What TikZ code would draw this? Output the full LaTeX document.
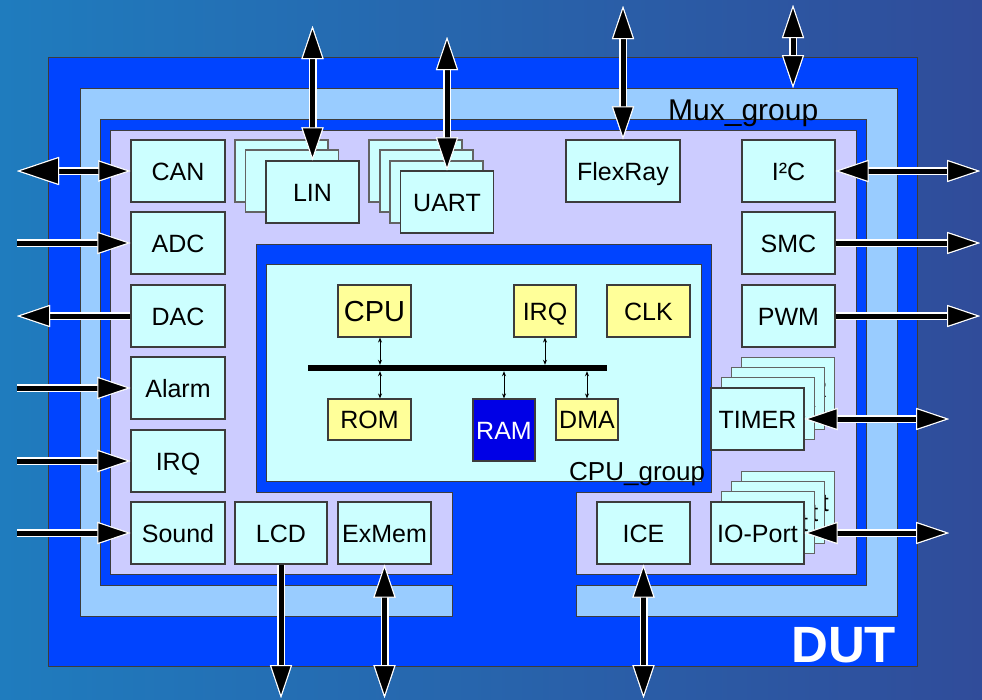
\documentclass[tikz,border=0pt]{standalone}
\usepackage{fontspec}
\setmainfont{Liberation Sans}
\usetikzlibrary{arrows.meta}
\definecolor{dutblue}{RGB}{0,68,255}
\definecolor{lightb}{RGB}{153,204,255}
\definecolor{lav}{RGB}{204,204,255}
\definecolor{cyanb}{RGB}{204,255,255}
\definecolor{yel}{RGB}{255,255,153}
\definecolor{ramb}{RGB}{0,0,230}
\definecolor{bordc}{RGB}{60,60,60}
\definecolor{bgl}{RGB}{31,124,190}
\definecolor{bgr}{RGB}{48,76,154}
\begin{document}
\begin{tikzpicture}[x=1pt,y=-1pt,
  font=\fontsize{25}{30}\selectfont,
  bx/.style={draw=bordc, line width=1.1pt, fill=cyanb, inner sep=0pt,
    minimum width=93pt, minimum height=62pt, text height=18pt, text depth=0pt},
  stk/.style={bx, draw=bordc!80},
  ybx/.style={draw=bordc, line width=1.1pt, fill=yel, inner sep=0pt,
    text height=18pt, text depth=0pt},
  conn/.style={line width=5pt, draw=black, preaction={draw=white, line width=8pt}},
  one/.style={conn, -{Triangle[length=33pt,width=22pt,fill=black,color=white,line width=1pt]}},
  two/.style={conn, {Triangle[length=33pt,width=22pt,fill=black,color=white,line width=1pt]}-{Triangle[length=33pt,width=22pt,fill=black,color=white,line width=1pt]}},
  twobig/.style={conn, {Triangle[length=42pt,width=28pt,fill=black,color=white,line width=1pt]}-{Triangle[length=32pt,width=21pt,fill=black,color=white,line width=1pt]}},
  small/.style={line width=1pt, black, {Stealth[length=5pt,width=4pt]}-{Stealth[length=5pt,width=4pt]}},
  grp/.style={draw=bordc, line width=1pt}
]
\useasboundingbox (0,0) rectangle (982,699);
% background
\shade[left color=bgl, right color=bgr] (0,0) rectangle (982,699);
% DUT
\draw[grp, fill=dutblue] (48,57) rectangle (917,666);
% Mux group (light blue frame with gap)
\draw[grp, fill=lightb] (452,616) -- (80,616) -- (80,88) -- (897,88) -- (897,616)
  -- (576,616) -- (576,585) -- (866,585) -- (866,119) -- (100,119) -- (100,585)
  -- (452,585) -- cycle;
% lavender area
\draw[grp, fill=lav] (452,574) -- (110,574) -- (110,130) -- (856,130) -- (856,574)
  -- (576,574) -- (576,492) -- (711,492) -- (711,244) -- (256,244) -- (256,492)
  -- (452,492) -- cycle;
% CPU group inner
\draw[grp, fill=cyanb] (266,264) rectangle (701,481);
\node[anchor=base west, inner sep=0pt, font=\fontsize{30}{36}\selectfont] (mux) at (668,120) {Mux\_group};
\node[anchor=base west, inner sep=0pt, font=\fontsize{26}{31}\selectfont] (cpug) at (569,480) {CPU\_group};
\node[anchor=base west, inner sep=0pt, text=white, font=\fontsize{51}{60}\selectfont\bfseries] (dut) at (791,662) {DUT};

% left column
\node[bx, minimum width=94pt] (can) at (178,171) {CAN};
\node[bx, minimum width=94pt] (adc) at (178,243) {ADC};
\node[bx, minimum width=94pt] (dac) at (178,316) {DAC};
\node[bx, minimum width=94pt] (alarm) at (178,388) {Alarm};
\node[bx, minimum width=94pt] (irq) at (178,461) {IRQ};
\node[bx, minimum width=94pt] (sound) at (178,533) {Sound};
\node[bx, minimum width=92pt] (lcd) at (281,533) {LCD};
\node[bx] (exmem) at (384.5,533) {ExMem};
\node[bx] (ice) at (643.5,533) {ICE};

% right column
\node[bx] (i2c) at (788.5,171) {I²C};
\node[bx] (smc) at (788.5,243) {SMC};
\node[bx] (pwm) at (788.5,316) {PWM};
\node[bx, minimum width=114pt] (flex) at (623,171) {FlexRay};

% LIN stack
\node[stk] (lin1) at (281.5,171) {};
\node[stk] (lin2) at (292,181) {};
\node[bx] (lin) at (312.5,192) {LIN};
% UART stack
\node[stk] (uart1) at (415.5,171) {};
\node[stk] (uart2) at (426.5,181) {};
\node[stk] (uart3) at (436.5,192) {};
\node[bx] (uart) at (447,202) {UART};
% TIMER stack
\node[stk] (tim1) at (788.4,388.1) {TIMER};
\node[stk] (tim2) at (778.1,398.4) {TIMER};
\node[stk] (tim3) at (767.8,408.7) {TIMER};
\node[bx] (timer) at (757.5,419) {TIMER};
% IO-Port stack
\node[stk] (io1) at (788.4,502.1) {IO-Port};
\node[stk] (io2) at (778.1,512.4) {IO-Port};
\node[stk] (io3) at (767.8,522.7) {IO-Port};
\node[bx] (io) at (757.5,533) {IO-Port};

% CPU group content
\node[ybx, minimum width=73pt, minimum height=52pt, text height=21pt, font=\fontsize{29}{34}\selectfont] (cpu) at (374.5,311) {CPU};
\node[ybx, minimum width=62pt, minimum height=52pt] (irq2) at (545,311) {IRQ};
\node[ybx, minimum width=83pt, minimum height=52pt] (clk) at (648.5,311) {CLK};
\node[ybx, minimum width=83pt, minimum height=41pt] (rom) at (369.5,419.5) {ROM};
\node[ybx, fill=ramb, text=white, minimum width=62pt, minimum height=62pt] (ram) at (504,430) {RAM};
\node[ybx, minimum width=62pt, minimum height=41pt] (dma) at (587,419.5) {DMA};
\node[fill=black, inner sep=0pt, minimum width=299pt, minimum height=6pt] (bus) at (457.5,368) {};

\draw[small] ([xshift=5.5pt]cpu.south) -- ([xshift=5.5pt]cpu.south |- bus.north);
\draw[small] ([xshift=10.5pt]rom.north |- bus.south) -- ([xshift=10.5pt]rom.north);
\draw[small] (irq2.south) -- (irq2.south |- bus.north);
\draw[small] (ram.north |- bus.south) -- (ram.north);
\draw[small] (dma.north |- bus.south) -- (dma.north);

% free ends
\coordinate (canE) at (17,171);
\coordinate (adcE) at (17,243);
\coordinate (dacE) at (17,316);
\coordinate (alarmE) at (17,388);
\coordinate (irqE) at (17,461);
\coordinate (soundE) at (17,533);
\coordinate (linE) at (312.5,26);
\coordinate (uartE) at (447,37);
\coordinate (flexE) at (623,6);
\coordinate (muxT) at (793,5);
\coordinate (muxB) at (793,88);
\coordinate (i2cE) at (980,171);
\coordinate (smcE) at (980,243);
\coordinate (pwmE) at (980,316);
\coordinate (timerE) at (949,419);
\coordinate (ioE) at (949,533);
\coordinate (lcdE) at (281,698);
\coordinate (exmemE) at (384.5,698);
\coordinate (iceE) at (643.5,698);

% big arrows
\draw[twobig] (canE) -- (can.west);
\draw[one] (adcE) -- (adc.west);
\draw[one] (dac.west) -- (dacE);
\draw[one] (alarmE) -- (alarm.west);
\draw[one] (irqE) -- (irq.west);
\draw[one] (soundE) -- (sound.west);
\draw[two] (linE) -- (lin.north);
\draw[two] (uartE) -- (uart.north);
\draw[two] (flexE) -- (flex.north);
\draw[two] (muxT) -- (muxB);
\draw[two] (i2c.east) -- (i2cE);
\draw[one] (smc.east) -- (smcE);
\draw[one] (pwm.east) -- (pwmE);
\draw[two] (timer.east) -- (timerE);
\draw[two] (io.east) -- (ioE);
\draw[one] (lcd.south) -- (lcdE);
\draw[two] (exmem.south) -- (exmemE);
\draw[two] (ice.south) -- (iceE);
\end{tikzpicture}
\end{document}
